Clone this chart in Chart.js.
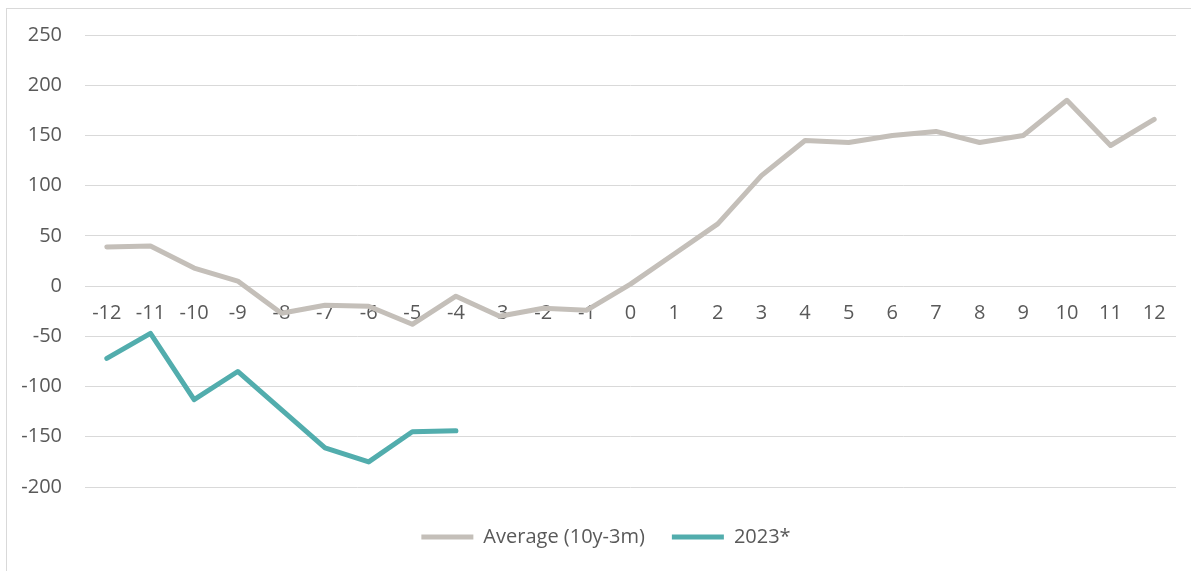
<!DOCTYPE html>
<html>
<head>
<meta charset="utf-8">
<script src="https://cdn.jsdelivr.net/npm/chart.js@4.4.1/dist/chart.umd.min.js"></script>
<style>
  html, body { margin: 0; padding: 0; background: #ffffff; overflow: hidden; }
  #wrap { position: relative; width: 1191px; height: 571px; }
  #frame { position: absolute; left: 6px; top: 8px; width: 1400px; height: 800px; border: 1px solid #D9D9D9; box-sizing: border-box; }
  #chart { position: absolute; left: 0; top: 0; }
</style>
</head>
<body>
<div id="wrap">
  <div id="frame"></div>
  <canvas id="chart" width="1191" height="571"></canvas>
</div>
<script>
// Months relative to the reference point
const months = ['-12','-11','-10','-9','-8','-7','-6','-5','-4','-3','-2','-1','0','1','2','3','4','5','6','7','8','9','10','11','12'];
// Average (10y-3m)
const averageValues = [39, 40, 18, 5, -27, -19, -20, -38, -10, -30, -22, -24, 2, 32, 62, 110, 145, 143, 150, 154, 143, 150, 185, 140, 166];
// 2023* (available through month -4)
const values2023 = [-72, -47, -113, -85, -123, -161, -175, -145, -144];
// Value axis ticks
const yMin = -200, yMax = 250, yStep = 50;

const textColor = '#595959';
const gridColor = '#D9D9D9';
const fontFamily = '"Open Sans", "Liberation Sans", sans-serif';

// Nudges the legend row to the right so it sits centred under the plot
const legendShift = {
  id: 'legendShift',
  afterLayout(chart) {
    if (chart.legend) {
      chart.legend.left += 18;
      chart.legend.right += 18;
    }
  }
};

new Chart(document.getElementById('chart'), {
  type: 'line',
  data: {
    labels: months,
    datasets: [
      {
        label: 'Average (10y-3m)',
        data: averageValues,
        borderColor: '#C4BFB9',
        backgroundColor: '#C4BFB9',
        borderWidth: 5,
        borderCapStyle: 'round',
        borderJoinStyle: 'round',
        pointRadius: 0,
        tension: 0
      },
      {
        label: '2023*',
        data: values2023,
        borderColor: '#52ADAD',
        backgroundColor: '#52ADAD',
        borderWidth: 5,
        borderCapStyle: 'round',
        borderJoinStyle: 'round',
        pointRadius: 0,
        tension: 0
      }
    ]
  },
  plugins: [legendShift],
  options: {
    responsive: false,
    animation: false,
    layout: { padding: { left: 0, right: 15, top: 29, bottom: 14 } },
    plugins: {
      tooltip: { enabled: false },
      legend: {
        position: 'bottom',
        // empty title used only as spacing between the plot and the legend row
        title: { display: true, text: '', font: { size: 1, lineHeight: 1 }, padding: { top: 12, bottom: 0 } },
        labels: {
          usePointStyle: true,
          pointStyle: 'line',
          pointStyleWidth: 52,
          padding: 27,
          color: textColor,
          font: { family: fontFamily, size: 20 }
        }
      }
    },
    scales: {
      x: {
        position: { y: 0 },
        offset: true,
        grid: { display: false, drawTicks: false },
        border: { display: false },
        ticks: {
          color: textColor,
          font: { family: fontFamily, size: 20 },
          padding: 15,
          maxRotation: 0,
          autoSkip: false
        }
      },
      y: {
        min: yMin,
        max: yMax,
        grid: { color: gridColor, lineWidth: 1, drawTicks: false },
        border: { display: false },
        ticks: {
          stepSize: yStep,
          color: textColor,
          font: { family: fontFamily, size: 20 },
          padding: 23
        },
        afterFit: (scale) => { scale.width = 85; }
      }
    }
  }
});
</script>
</body>
</html>
